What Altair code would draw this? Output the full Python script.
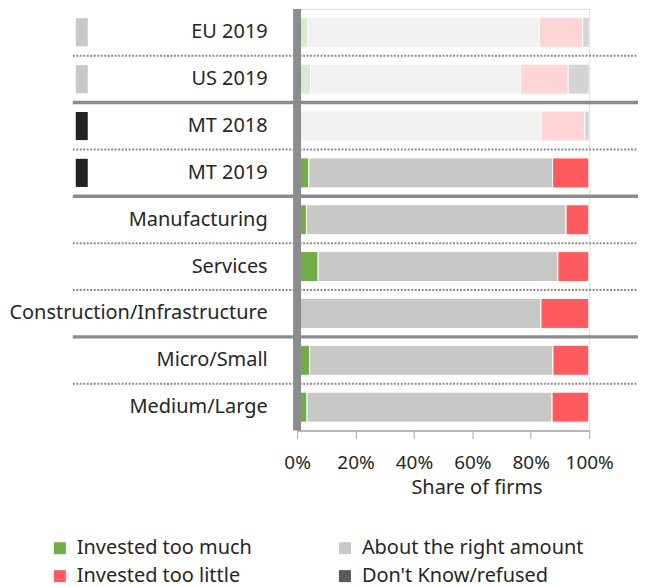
import altair as alt
import pandas as pd

categories = ["EU 2019", "US 2019", "MT 2018", "MT 2019", "Manufacturing",
              "Services", "Construction/Infrastructure", "Micro/Small", "Medium/Large"]
series = ["Invested too much", "About the right amount", "Invested too little", "Don't Know/refused"]
too_much = [3.7, 4.6, 0.0, 4.0, 3.2, 7.2, 0.0, 4.3, 3.4]
about_right = [79.2, 71.8, 83.5, 83.5, 88.9, 82.1, 83.5, 83.3, 83.9]
too_little = [14.9, 16.4, 15.0, 12.5, 7.9, 10.7, 16.5, 12.4, 12.7]
dont_know = [2.2, 7.2, 1.5, 0.0, 0.0, 0.0, 0.0, 0.0, 0.0]
colors = ["#70AD47", "#C8C8C6", "#FF5A5F", "#595959"]
faded_rows = ["EU 2019", "US 2019", "MT 2018"]
benchmark_rows = ["EU 2019", "US 2019"]
marker_rows = ["EU 2019", "US 2019", "MT 2018", "MT 2019"]
dotted_sep_rows = ["US 2019", "MT 2019", "Services", "Construction/Infrastructure", "Medium/Large"]
solid_sep_rows = ["MT 2018", "Manufacturing", "Micro/Small"]
tick_values = [0, 20, 40, 60, 80, 100]

W, H = 293, 423
FONT = "Noto Sans"
TXT = "#262626"
LINE = "#8a8c8e"

rows = []
for i, cat in enumerate(categories):
    for j, (s, vals) in enumerate(zip(series, [too_much, about_right, too_little, dont_know])):
        rows.append({"category": cat, "series": s, "value": vals[i], "order": j})
df = pd.DataFrame(rows)

yscale = alt.Scale(domain=categories, paddingInner=0, paddingOuter=0)

bars = alt.Chart(df).mark_bar(height={"band": 0.64}, stroke="white", strokeWidth=1).encode(
    x=alt.X("value:Q", stack="zero",
            scale=alt.Scale(domain=[0, 100], nice=False),
            axis=alt.Axis(values=tick_values, labelExpr="datum.value + '%'", grid=False,
                          labelOverlap=False, labelFlush=False,
                          tickSize=8, tickColor="#a6a6a6", domainColor="#a6a6a6", domainWidth=1.5,
                          labelFontSize=19, labelColor=TXT, labelFont=FONT, labelPadding=15,
                          title="Share of firms", titleFontSize=20, titleFontWeight="normal",
                          titleColor=TXT, titleFont=FONT, titlePadding=5, titleX=180)),
    y=alt.Y("category:N", scale=yscale,
            axis=alt.Axis(title=None, ticks=False, domain=False, labelPadding=30,
                          labelFontSize=20, labelColor=TXT, labelFont=FONT, labelLimit=500)),
    color=alt.Color("series:N", scale=alt.Scale(domain=series, range=colors),
                    legend=alt.Legend(title=None, orient="none", legendX=-248, legendY=531,
                                      direction="horizontal",
                                      columns=2, columnPadding=83, rowPadding=8,
                                      symbolType="square", symbolSize=144, symbolStrokeWidth=0,
                                      labelFontSize=20, labelColor=TXT, labelFont=FONT,
                                      labelOffset=7, labelLimit=500)),
    order=alt.Order("order:Q"),
    opacity=alt.condition(alt.FieldOneOfPredicate(field="category", oneOf=faded_rows),
                          alt.value(0.25), alt.value(1.0)),
)

sep_dotted = alt.Chart(pd.DataFrame({"category": dotted_sep_rows})).mark_rule(
    color=LINE, strokeWidth=2, strokeDash=[2, 1.5]).encode(
    y=alt.Y("category:N", scale=yscale, bandPosition=0),
    x=alt.value(-225), x2=alt.value(342))

sep_solid = alt.Chart(pd.DataFrame({"category": solid_sep_rows})).mark_rule(
    color=LINE, strokeWidth=3.5).encode(
    y=alt.Y("category:N", scale=yscale, bandPosition=0),
    x=alt.value(-225), x2=alt.value(342))

markers = alt.Chart(pd.DataFrame({"category": marker_rows})).mark_bar(height={"band": 0.6}).encode(
    y=alt.Y("category:N", scale=yscale),
    x=alt.value(-222), x2=alt.value(-210),
    color=alt.condition(alt.FieldOneOfPredicate(field="category", oneOf=benchmark_rows),
                        alt.value("#c8c8c8"), alt.value("#222222")))

vline = alt.Chart(pd.DataFrame({"x": [0]})).mark_rect(color=LINE, xOffset=-4, x2Offset=4).encode(
    x=alt.X("x:Q"), x2=alt.X2("x"), y=alt.value(0), y2=alt.value(H))

chart = alt.layer(bars, sep_dotted, sep_solid, markers, vline).properties(
    width=W, height=H, padding=0
).configure_view(stroke=None).configure(font=FONT)

chart.save("out.html", embed_options={"renderer": "svg", "actions": False})
